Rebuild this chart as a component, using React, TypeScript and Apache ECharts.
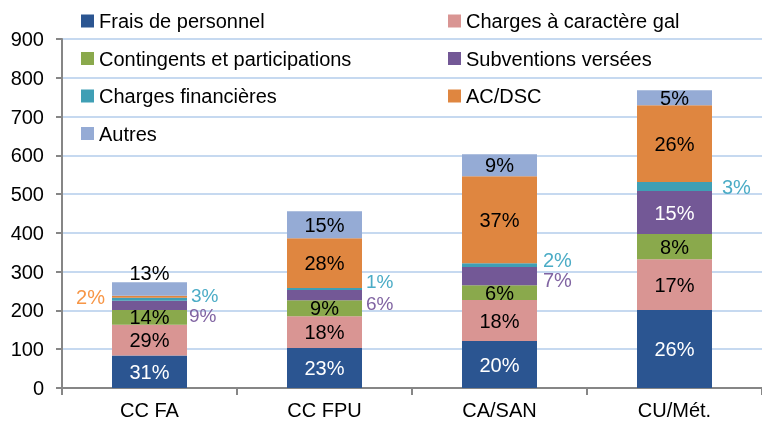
import React, { useEffect, useRef } from "react";
import * as echarts from "echarts";

const categories = ["CC FA", "CC FPU", "CA/SAN", "CU/Mét."];
const seriesNames = [
  "Frais de personnel",
  "Charges à caractère gal",
  "Contingents et participations",
  "Subventions versées",
  "Charges financières",
  "AC/DSC",
  "Autres",
];
const fraisPersonnel = [84, 103, 121, 201];
const chargesGal = [79, 82, 106, 131];
const contingents = [38, 41, 38, 65];
const subventions = [24, 27, 47, 111];
const chargesFin = [8, 5, 10, 23];
const acDsc = [5, 128, 224, 198];
const autres = [35, 70, 57, 39];

const labelsFrais = ["31%", "23%", "20%", "26%"];
const labelsGal = ["29%", "18%", "18%", "17%"];
const labelsCont = ["14%", "9%", "6%", "8%"];
const labelsSubv = ["9%", "6%", "7%", "15%"];
const labelsFin = ["3%", "1%", "2%", "3%"];
const labelsAc = ["2%", "28%", "37%", "26%"];
const labelsAutres = ["13%", "15%", "9%", "5%"];

const yTicks = [0, 100, 200, 300, 400, 500, 600, 700, 800, 900];

const colors = ["#2b5591", "#d99593", "#8aa94c", "#735896", "#3f9fb5", "#df8640", "#95abd5"];

export default function App() {
  const ref = useRef<HTMLDivElement>(null);
  useEffect(() => {
    if (!ref.current) return;
    const chart = echarts.init(ref.current, null, { renderer: "svg" });
    const font = "'Liberation Sans', Arial, sans-serif";
    const values = [fraisPersonnel, chargesGal, contingents, subventions, chargesFin, acDsc, autres];
    const labels = [labelsFrais, labelsGal, labelsCont, labelsSubv, labelsFin, labelsAc, labelsAutres];

    // label placement overrides (style only)
    const outside: Record<string, any> = {
      "4-0": { position: "right", distance: 4, offset: [0, -4], color: "#4bacc6", fontSize: 19 },
      "3-0": { position: "right", distance: 2, offset: [0, 10], color: "#8064a2", fontSize: 19 },
      "5-0": { position: "left", distance: 7, offset: [0, 0], color: "#f79646" },
      "6-0": { position: "top", distance: 1, color: "#000000" },
      "4-1": { position: "right", distance: 4, offset: [0, -7], color: "#4bacc6", fontSize: 19 },
      "3-1": { position: "right", distance: 4, offset: [0, 8], color: "#8064a2", fontSize: 19 },
      "4-2": { position: "right", distance: 6, offset: [0, -5], color: "#4bacc6" },
      "3-2": { position: "right", distance: 6, offset: [0, 4], color: "#8064a2" },
      "4-3": { position: "right", distance: 10, offset: [0, 0], color: "#4bacc6" },
    };
    const insideColor = (s: number) => (s === 0 || s === 3 ? "#ffffff" : "#000000");

    const series = seriesNames.map((name, s) => ({
      name,
      type: "bar",
      stack: "total",
      barWidth: 75,
      itemStyle: { color: colors[s] },
      data: values[s].map((v, c) => {
        const o = outside[`${s}-${c}`];
        return {
          value: v,
          label: {
            show: true,
            position: o ? o.position : "inside",
            distance: o ? o.distance : 5,
            offset: o && o.offset ? o.offset : [0, 0],
            color: o ? o.color : insideColor(s),
            fontSize: o && o.fontSize ? o.fontSize : 20,
            lineHeight: 16,
            fontFamily: font,
            formatter: () => labels[s][c],
          },
        };
      }),
    }));

    chart.setOption({
      animation: false,
      color: colors,
      textStyle: { fontFamily: font },
      grid: { left: 62, right: 0, top: 39, bottom: 33, containLabel: false },
      legend: [
        {
          data: seriesNames.filter((_, i) => i % 2 === 0),
          orient: "vertical",
          left: 76,
          top: 4,
          icon: "rect",
          itemWidth: 13,
          itemHeight: 13,
          itemGap: 13.5,
          textStyle: { fontSize: 20, fontFamily: font, color: "#000", lineHeight: 24 },
        },
        {
          data: seriesNames.filter((_, i) => i % 2 === 1),
          orient: "vertical",
          left: 443,
          top: 4,
          icon: "rect",
          itemWidth: 13,
          itemHeight: 13,
          itemGap: 13.5,
          textStyle: { fontSize: 20, fontFamily: font, color: "#000", lineHeight: 24 },
        },
      ],
      xAxis: {
        type: "category",
        data: categories,
        axisLine: { lineStyle: { color: "#868686", width: 2 } },
        axisTick: { show: true, length: 7, lineStyle: { color: "#868686", width: 2 } },
        axisLabel: { fontSize: 20, color: "#000", fontFamily: font, margin: 12 },
      },
      yAxis: {
        type: "value",
        min: yTicks[0],
        max: yTicks[yTicks.length - 1],
        interval: 100,
        axisLine: { show: true, lineStyle: { color: "#868686", width: 2 } },
        axisTick: { show: true, length: 6, lineStyle: { color: "#868686", width: 2 } },
        axisLabel: { fontSize: 20, color: "#000", fontFamily: font, margin: 18 },
        splitLine: { lineStyle: { color: "#c6d9f0", width: 2 } },
      },
      series,
    });
    return () => chart.dispose();
  }, []);
  return <div ref={ref} style={{ position: "fixed", left: 0, top: 0, width: 762, height: 421 }} />;
}
